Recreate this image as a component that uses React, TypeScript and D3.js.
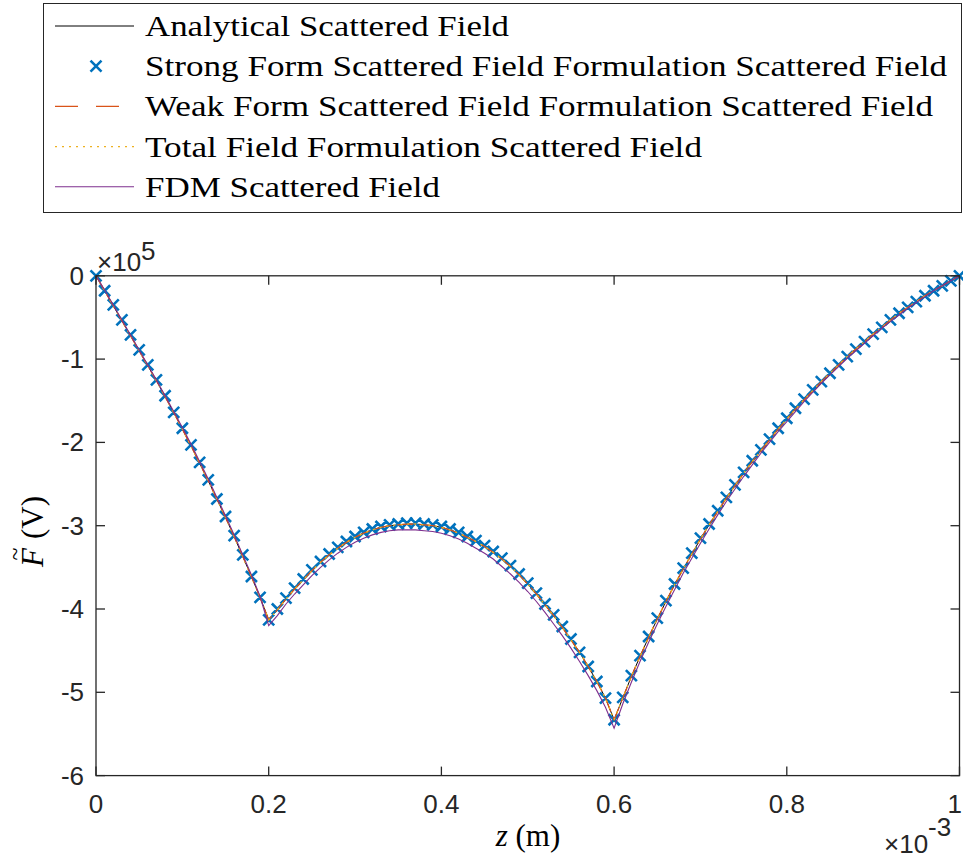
import React from 'react';
import * as d3 from 'd3';

// z positions (×10^-3 m)
const zGrid = [
  0, 0.01, 0.02, 0.03, 0.04, 0.05, 0.06, 0.07, 0.08, 0.09,
  0.1, 0.11, 0.12, 0.13, 0.14, 0.15, 0.16, 0.17, 0.18, 0.19,
  0.2, 0.21, 0.22, 0.23, 0.24, 0.25, 0.26, 0.27, 0.28, 0.29,
  0.3, 0.31, 0.32, 0.33, 0.34, 0.35, 0.36, 0.37, 0.38, 0.39,
  0.4, 0.41, 0.42, 0.43, 0.44, 0.45, 0.46, 0.47, 0.48, 0.49,
  0.5, 0.51, 0.52, 0.53, 0.54, 0.55, 0.56, 0.57, 0.58, 0.59,
  0.6, 0.61, 0.62, 0.63, 0.64, 0.65, 0.66, 0.67, 0.68, 0.69,
  0.7, 0.71, 0.72, 0.73, 0.74, 0.75, 0.76, 0.77, 0.78, 0.79,
  0.8, 0.81, 0.82, 0.83, 0.84, 0.85, 0.86, 0.87, 0.88, 0.89,
  0.9, 0.91, 0.92, 0.93, 0.94, 0.95, 0.96, 0.97, 0.98, 0.99,
  1,
];

// field values (×10^5 V)
const analytical = [
  0, -0.18, -0.36, -0.54, -0.72, -0.9, -1.08, -1.26, -1.45, -1.64,
  -1.84, -2.04, -2.25, -2.46, -2.68, -2.9, -3.13, -3.37, -3.61, -3.86,
  -4.13, -4.01, -3.88, -3.76, -3.65, -3.54, -3.44, -3.35, -3.27, -3.2,
  -3.14, -3.09, -3.05, -3.02, -3.0, -2.99, -2.98, -2.98, -2.99, -3.0,
  -3.02, -3.05, -3.09, -3.14, -3.19, -3.25, -3.32, -3.4, -3.49, -3.59,
  -3.7, -3.82, -3.95, -4.08, -4.22, -4.37, -4.52, -4.69, -4.87, -5.07,
  -5.33, -5.07, -4.81, -4.57, -4.34, -4.12, -3.91, -3.71, -3.52, -3.34,
  -3.16, -2.99, -2.83, -2.67, -2.52, -2.37, -2.23, -2.1, -1.97, -1.84,
  -1.72, -1.6, -1.49, -1.38, -1.27, -1.17, -1.07, -0.97, -0.88, -0.79,
  -0.7, -0.62, -0.53, -0.45, -0.38, -0.31, -0.24, -0.18, -0.12, -0.06,
  0,
];

const strongForm = [
  0, -0.18, -0.35, -0.53, -0.71, -0.89, -1.07, -1.25, -1.44, -1.64,
  -1.83, -2.03, -2.24, -2.45, -2.68, -2.89, -3.12, -3.35, -3.61, -3.86,
  -4.13, -4.0, -3.87, -3.75, -3.64, -3.53, -3.43, -3.34, -3.26, -3.19,
  -3.13, -3.08, -3.04, -3.01, -2.99, -2.98, -2.97, -2.97, -2.98, -2.99,
  -3.01, -3.04, -3.08, -3.13, -3.18, -3.24, -3.31, -3.39, -3.48, -3.58,
  -3.69, -3.81, -3.94, -4.07, -4.21, -4.36, -4.52, -4.69, -4.87, -5.07,
  -5.33, -5.06, -4.8, -4.56, -4.33, -4.11, -3.9, -3.7, -3.51, -3.33,
  -3.15, -2.98, -2.82, -2.66, -2.51, -2.36, -2.22, -2.09, -1.96, -1.83,
  -1.71, -1.59, -1.48, -1.37, -1.27, -1.17, -1.07, -0.97, -0.88, -0.79,
  -0.7, -0.62, -0.53, -0.45, -0.38, -0.31, -0.24, -0.18, -0.12, -0.06,
  0,
];

const weakForm = [
  0, -0.18, -0.36, -0.54, -0.72, -0.9, -1.08, -1.26, -1.45, -1.64,
  -1.84, -2.04, -2.25, -2.46, -2.68, -2.9, -3.13, -3.37, -3.61, -3.86,
  -4.13, -4.01, -3.88, -3.76, -3.65, -3.54, -3.44, -3.35, -3.27, -3.2,
  -3.14, -3.09, -3.05, -3.02, -3.0, -2.99, -2.98, -2.98, -2.99, -3.0,
  -3.02, -3.05, -3.09, -3.14, -3.19, -3.25, -3.32, -3.4, -3.49, -3.59,
  -3.7, -3.82, -3.95, -4.08, -4.22, -4.37, -4.52, -4.69, -4.87, -5.07,
  -5.33, -5.07, -4.81, -4.57, -4.34, -4.12, -3.91, -3.71, -3.52, -3.34,
  -3.16, -2.99, -2.83, -2.67, -2.52, -2.37, -2.23, -2.1, -1.97, -1.84,
  -1.72, -1.6, -1.49, -1.38, -1.27, -1.17, -1.07, -0.97, -0.88, -0.79,
  -0.7, -0.62, -0.53, -0.45, -0.38, -0.31, -0.24, -0.18, -0.12, -0.06,
  0,
];

const totalField = [
  0, -0.18, -0.36, -0.54, -0.72, -0.9, -1.08, -1.26, -1.45, -1.64,
  -1.84, -2.04, -2.25, -2.46, -2.68, -2.9, -3.13, -3.37, -3.61, -3.86,
  -4.13, -4.01, -3.88, -3.76, -3.65, -3.54, -3.44, -3.35, -3.27, -3.2,
  -3.14, -3.09, -3.05, -3.02, -3.0, -2.99, -2.98, -2.98, -2.99, -3.0,
  -3.02, -3.05, -3.09, -3.14, -3.19, -3.25, -3.32, -3.4, -3.49, -3.59,
  -3.7, -3.82, -3.95, -4.08, -4.22, -4.37, -4.52, -4.69, -4.87, -5.07,
  -5.33, -5.07, -4.81, -4.57, -4.34, -4.12, -3.91, -3.71, -3.52, -3.34,
  -3.16, -2.99, -2.83, -2.67, -2.52, -2.37, -2.23, -2.1, -1.97, -1.84,
  -1.72, -1.6, -1.49, -1.38, -1.27, -1.17, -1.07, -0.97, -0.88, -0.79,
  -0.7, -0.62, -0.53, -0.45, -0.38, -0.31, -0.24, -0.18, -0.12, -0.06,
  0,
];

const fdm = [
  0, -0.17, -0.35, -0.53, -0.71, -0.89, -1.07, -1.25, -1.44, -1.63,
  -1.82, -2.02, -2.23, -2.44, -2.66, -2.88, -3.11, -3.35, -3.59, -3.85,
  -4.2, -4.08, -3.94, -3.82, -3.71, -3.6, -3.5, -3.41, -3.33, -3.26,
  -3.2, -3.15, -3.11, -3.08, -3.06, -3.05, -3.05, -3.05, -3.06, -3.07,
  -3.09, -3.12, -3.16, -3.21, -3.27, -3.33, -3.4, -3.49, -3.58, -3.68,
  -3.79, -3.91, -4.04, -4.18, -4.32, -4.47, -4.63, -4.8, -4.98, -5.18,
  -5.43, -5.14, -4.88, -4.63, -4.4, -4.18, -3.97, -3.77, -3.57, -3.39,
  -3.21, -3.04, -2.87, -2.71, -2.56, -2.41, -2.27, -2.13, -2.0, -1.87,
  -1.75, -1.63, -1.51, -1.4, -1.29, -1.19, -1.09, -0.99, -0.9, -0.81,
  -0.72, -0.63, -0.55, -0.47, -0.39, -0.32, -0.25, -0.18, -0.12, -0.06,
  0,
];

const xTicks = [0, 0.2, 0.4, 0.6, 0.8, 1];
const xTickLabels = ['0', '0.2', '0.4', '0.6', '0.8', '1'];
const yTicks = [0, -1, -2, -3, -4, -5, -6];
const yTickLabels = ['0', '-1', '-2', '-3', '-4', '-5', '-6'];

const legendLabels = [
  'Analytical Scattered Field',
  'Strong Form Scattered Field Formulation Scattered Field',
  'Weak Form Scattered Field Formulation Scattered Field',
  'Total Field Formulation Scattered Field',
  'FDM Scattered Field',
];
const legendWidths = [364, 802, 788, 557, 295];

const BLUE = '#0072BD';
const ORANGE = '#D95319';
const YELLOW = '#EDB120';
const PURPLE = '#7E2F8E';
const AXIS = '#262626';

const SERIF = '"Liberation Serif", "DejaVu Serif", serif';
const SANS = '"Liberation Sans", Arial, sans-serif';

export default function App() {
  const left = 96;
  const right = 959.5;
  const top = 275.8;
  const bottom = 775.6;
  const x = d3.scaleLinear().domain([0, 1]).range([left, right]);
  const y = d3.scaleLinear().domain([-6, 0]).range([bottom, top]);

  const lineGen = d3
    .line<number>()
    .x((_, i) => x(zGrid[i]))
    .y((v) => y(v));

  const tickLen = 9;
  const cross = (cx: number, cy: number, s: number) =>
    `M${cx - s},${cy - s}L${cx + s},${cy + s}M${cx - s},${cy + s}L${cx + s},${cy - s}`;

  const legendTop = 36;
  const legendStep = 40.2;

  return (
    <svg
      width={963}
      height={862}
      style={{ position: 'absolute', left: 0, top: 0, background: '#fff' }}
    >
      <rect x={0} y={0} width={963} height={862} fill="#fff" />

      {/* plot series */}
      <g fill="none">
        <path d={lineGen(analytical) || ''} stroke="#000" strokeWidth={1} />
        <path
          d={strongForm.map((v, i) => cross(x(zGrid[i]), y(v), 5.5)).join('')}
          stroke={BLUE}
          strokeWidth={2.6}
        />
        <path
          d={lineGen(weakForm) || ''}
          stroke={ORANGE}
          strokeWidth={1.3}
          strokeDasharray="16,6"
        />
        <path
          d={lineGen(totalField) || ''}
          stroke={YELLOW}
          strokeWidth={1.4}
          strokeDasharray="2,5"
        />
        <path d={lineGen(fdm) || ''} stroke={PURPLE} strokeWidth={1.1} />
      </g>

      {/* axes box */}
      <rect
        x={left}
        y={top}
        width={right - left}
        height={bottom - top}
        fill="none"
        stroke={AXIS}
        strokeWidth={1.3}
      />
      {xTicks.map((t, i) => (
        <g key={'xt' + i}>
          <line x1={x(t)} x2={x(t)} y1={bottom} y2={bottom - tickLen} stroke={AXIS} strokeWidth={1.3} />
          <line x1={x(t)} x2={x(t)} y1={top} y2={top + tickLen} stroke={AXIS} strokeWidth={1.3} />
          <text
            x={i === xTicks.length - 1 ? 962 : x(t)}
            y={813}
            textAnchor={i === xTicks.length - 1 ? 'end' : 'middle'}
            fontFamily={SANS}
            fontSize={26}
            fill={AXIS}
          >
            {xTickLabels[i]}
          </text>
        </g>
      ))}
      {yTicks.map((t, i) => (
        <g key={'yt' + i}>
          <line x1={left} x2={left + tickLen} y1={y(t)} y2={y(t)} stroke={AXIS} strokeWidth={1.3} />
          <line x1={right} x2={right - tickLen} y1={y(t)} y2={y(t)} stroke={AXIS} strokeWidth={1.3} />
          <text
            x={84}
            y={y(t) + 9}
            textAnchor="end"
            fontFamily={SANS}
            fontSize={26}
            fill={AXIS}
          >
            {yTickLabels[i]}
          </text>
        </g>
      ))}

      {/* exponent labels */}
      <text x={97} y={271} fontFamily={SANS} fontSize={26} fill={AXIS}>
        ×10
        <tspan dy={-11}>5</tspan>
      </text>
      <text x={884} y={853} fontFamily={SANS} fontSize={26} fill={AXIS}>
        ×10
        <tspan dy={-17}>-3</tspan>
      </text>

      {/* x label */}
      <text x={528} y={846} textAnchor="middle" fontFamily={SERIF} fontSize={31} fill="#000">
        <tspan fontStyle="italic">z</tspan> (m)
      </text>

      {/* y label */}
      <g transform="translate(43,527) rotate(-90)">
        <text x={-40} y={0} fontFamily={SERIF} fontSize={31} fontStyle="italic" fill="#000">
          F
        </text>
        <text x={-27} y={-20} textAnchor="middle" fontFamily={SERIF} fontSize={24} fill="#000">
          ~
        </text>
        <text x={-12} y={0} fontFamily={SERIF} fontSize={31} fill="#000">
          (V)
        </text>
      </g>

      {/* legend */}
      <rect x={43.5} y={3.5} width={918} height={209} fill="#fff" stroke={AXIS} strokeWidth={1} />
      {legendLabels.map((label, i) => {
        const by = legendTop + i * legendStep;
        const cy = by - 10;
        return (
          <g key={'lg' + i}>
            {i === 0 && <line x1={55} x2={134} y1={cy} y2={cy} stroke="#000" strokeWidth={1} />}
            {i === 1 && <path d={cross(96, cy, 5.5)} stroke={BLUE} strokeWidth={2.6} fill="none" />}
            {i === 2 && (
              <line x1={55} x2={134} y1={cy} y2={cy} stroke={ORANGE} strokeWidth={1.3} strokeDasharray="23,18" />
            )}
            {i === 3 && (
              <line x1={55} x2={134} y1={cy} y2={cy} stroke={YELLOW} strokeWidth={1.4} strokeDasharray="2,5" />
            )}
            {i === 4 && <line x1={55} x2={134} y1={cy} y2={cy} stroke={PURPLE} strokeWidth={1.1} />}
            <text
              x={145}
              y={by}
              fontFamily={SERIF}
              fontSize={30}
              fill="#000"
              textLength={legendWidths[i]}
              lengthAdjust="spacingAndGlyphs"
            >
              {label}
            </text>
          </g>
        );
      })}
    </svg>
  );
}
